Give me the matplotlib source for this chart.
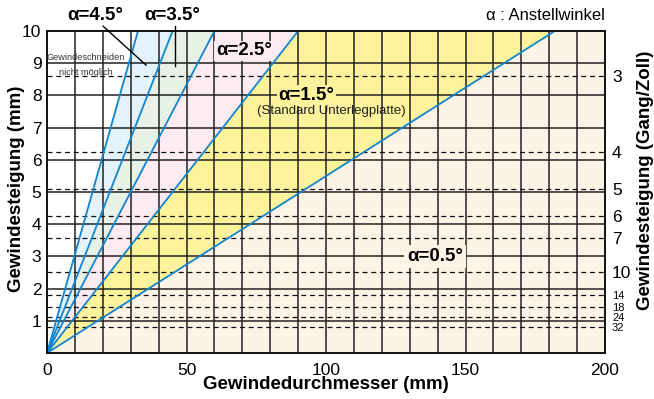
import matplotlib.pyplot as plt

plt.rcParams['font.family'] = ['Liberation Sans', 'DejaVu Sans']

# lead angle lines: angle label and the diameter where the line reaches 10 mm pitch
angles = ['4.5', '3.5', '2.5', '1.5', '0.5']
x_at_top = [32.6, 45.0, 60.0, 90.0, 182.0]
band_colors = ['#e4f2fb', '#e8f1e5', '#fcebf2', '#fdf39c', '#fef3e7']

# threads per inch (right axis) and the pitch where their dashed line sits
tpi_labels = ['3', '4', '5', '6', '7', '10', '14', '18', '24', '32']
tpi_pitch = [8.6, 6.25, 5.1, 4.25, 3.57, 2.5, 1.79, 1.44, 1.11, 0.82]

x_ticks = [0, 50, 100, 150, 200]
y_ticks = [1, 2, 3, 4, 5, 6, 7, 8, 9, 10]

fig = plt.figure(figsize=(6.54, 3.99), dpi=100)
ax = fig.add_axes([0.0719, 0.1153, 0.8532, 0.807])
ax.set_xlim(0, 200)
ax.set_ylim(0, 10)

# shaded bands between neighbouring lines
for i in range(len(x_at_top) - 1):
    ax.fill([0, x_at_top[i], x_at_top[i + 1]], [0, 10, 10],
            color=band_colors[i], lw=0, zorder=0)
ax.fill([0, x_at_top[-1], 200, 200], [0, 10, 10, 0],
        color=band_colors[-1], lw=0, zorder=0)

# grid
for gx in range(10, 200, 10):
    ax.axvline(gx, color='#222222', lw=1.1, zorder=1)
for gy in range(1, 10):
    ax.axhline(gy, color='#222222', lw=1.1, zorder=1)
for p in tpi_pitch:
    ax.axhline(p, color='#111111', lw=0.9, ls=(0, (4, 3)), zorder=1)

# angle lines
for xt in x_at_top:
    ax.plot([0, xt], [0, 10], color='#1185cf', lw=1.3, zorder=3)

for s in ax.spines.values():
    s.set_color('#111111')
    s.set_linewidth(1.4)
    s.set_zorder(5)

ax.set_xticks(x_ticks)
ax.set_yticks(y_ticks)
ax.tick_params(length=0, labelsize=12.5, pad=4)
ax.tick_params(axis='x', pad=7)
ax.set_xlabel('Gewindedurchmesser (mm)', fontsize=13.5, fontweight='bold', labelpad=-1)
fig.text(0.025, 0.526, 'Gewindesteigung (mm)', rotation=90,
         ha='center', va='center', fontsize=13.5, fontweight='bold')

ax2 = ax.twinx()
ax2.set_ylim(0, 10)
ax2.set_yticks(tpi_pitch)
ax2.set_yticklabels(tpi_labels)
ax2.tick_params(length=0, pad=5, labelsize=12.5)
for lab, t in zip(ax2.get_yticklabels(), tpi_labels):
    if int(t) >= 14:
        lab.set_fontsize(8)
for s in ax2.spines.values():
    s.set_visible(False)
fig.text(0.987, 0.549, 'Gewindesteigung (Gang/Zoll)', rotation=90,
         ha='center', va='center', fontsize=13.5, fontweight='bold')

# annotations
lab_kw = dict(fontsize=13.5, fontweight='bold', ha='center', va='center', zorder=6)
ax.text(17.2, 10.47, 'α=' + angles[0] + '°', clip_on=False, **lab_kw)
ax.text(44.8, 10.47, 'α=' + angles[1] + '°', clip_on=False, **lab_kw)
ax.plot([20.1, 35.5], [10.15, 8.94], color='k', lw=1, clip_on=False, zorder=6)
ax.plot([45.9, 45.9], [10.15, 8.9], color='k', lw=1, clip_on=False, zorder=6)
ax.text(70.5, 9.38, 'α=' + angles[2] + '°',
        bbox=dict(boxstyle='square,pad=0.1', fc=band_colors[2], ec='none'), **lab_kw)
ax.text(93, 8.0, 'α=' + angles[3] + '°',
        bbox=dict(boxstyle='square,pad=0.1', fc=band_colors[3], ec='none'), **lab_kw)
ax.text(102, 7.52, '(Standard Unterlegplatte)', fontsize=9.5, ha='center', va='center',
        color='#222222', zorder=6)
ax.text(139, 3.0, 'α=' + angles[4] + '°',
        bbox=dict(boxstyle='square,pad=0.15', fc=band_colors[4], ec='none'), **lab_kw)
ax.text(13.8, 8.94, 'Gewindeschneiden\nnicht möglich', fontsize=6.6, ha='center',
        va='center', color='#333333', linespacing=1.9, zorder=6)
ax.text(200, 10.47, 'α : Anstellwinkel', fontsize=12, ha='right', va='center',
        clip_on=False)

fig.savefig('out.png', dpi=100)
